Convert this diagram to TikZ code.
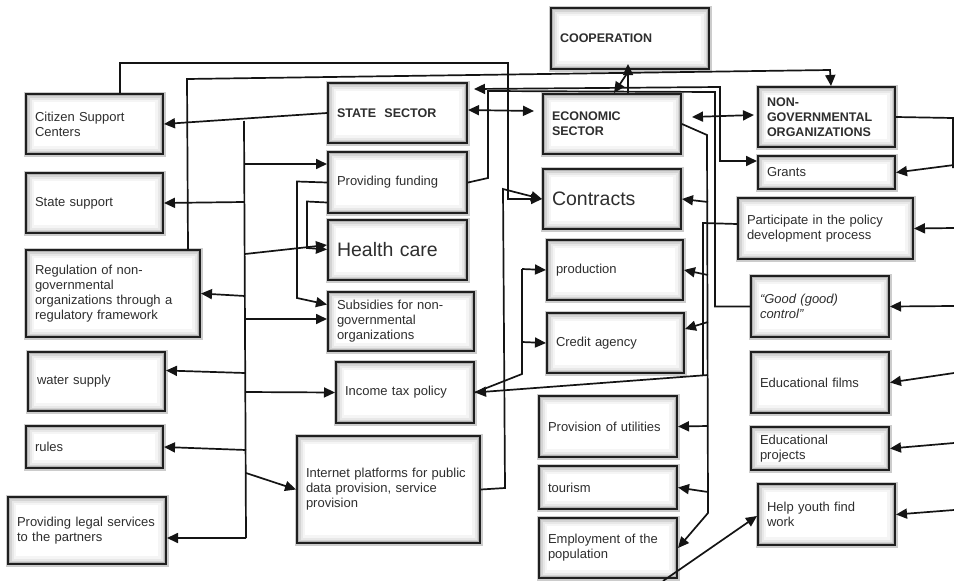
\documentclass[tikz,border=0pt]{standalone}
\usepackage{fontspec}
\setmainfont{Liberation Sans}
\usetikzlibrary{arrows.meta}
\newcommand\mkbox[7]{%
  \pgfmathsetmacro\bxw{#4-#2}%
  \pgfmathsetmacro\bxh{#5-#3}%
  \pgfmathsetmacro\bxt{#4-#2-18}%
  \node[box,#6,minimum width=\bxw pt,minimum height=\bxh pt,text width=\bxt pt] (#1) at (#2,#3) {#7};}
\tikzset{
 box/.style={draw=black!88, line width=2pt, fill=white, anchor=north west, align=left,
   inner xsep=9pt, inner ysep=0pt, text=black!82, font=\fontsize{13}{15}\selectfont,
   preaction={draw=black!20, line width=5pt},
   path picture={
     \draw[line width=16pt, black!4] (path picture bounding box.south west) rectangle (path picture bounding box.north east);
     \draw[line width=11pt, black!9] (path picture bounding box.south west) rectangle (path picture bounding box.north east);
     \draw[line width=7pt, black!17] (path picture bounding box.south west) rectangle (path picture bounding box.north east);
     \draw[line width=4pt, black!30] (path picture bounding box.south west) rectangle (path picture bounding box.north east);
   }},
 hd/.style={font=\fontsize{12.5}{15}\selectfont\bfseries},
 big/.style={font=\fontsize{19.5}{22}\selectfont},
 itx/.style={font=\fontsize{13}{15}\selectfont\itshape},
 ln/.style={line width=1.7pt, draw=black!92},
 arr/.style={ln, -{Triangle[length=11pt,width=10pt]}},
 arr2/.style={ln, {Triangle[length=11pt,width=10pt]}-{Triangle[length=11pt,width=10pt]}},
}
\begin{document}
\begin{tikzpicture}[x=1pt,y=-1pt]
\fill[white] (0,0) rectangle (954,581);
\useasboundingbox (0,0) rectangle (954,581);
% left column
\mkbox{cit}{25}{93}{162}{153}{}{Citizen Support\\Centers}
\mkbox{sup}{25}{172}{162}{232}{}{State support}
\mkbox{reg}{25}{249}{199}{336}{}{Regulation of non-\\governmental\\organizations through a\\regulatory framework}
\mkbox{wat}{27}{351}{164}{410}{}{water supply}
\mkbox{rul}{25}{425}{162}{467}{}{rules}
\mkbox{leg}{7}{496}{165}{563}{}{Providing legal services\\to the partners}
% state column
\mkbox{ss}{327}{82}{466}{142}{hd}{STATE~~SECTOR}
\mkbox{pf}{327}{151}{466}{212}{}{Providing funding}
\mkbox{hc}{327}{219}{466}{279}{big}{Health care}
\mkbox{sub}{327}{291}{473}{350}{}{Subsidies for non-\\governmental\\organizations}
\mkbox{inc}{335}{361}{473}{422}{}{Income tax policy}
\mkbox{int}{296}{435}{479}{542}{}{Internet platforms for public\\data provision, service\\provision}
% economic column
\mkbox{coop}{550}{7}{708}{68}{hd}{COOPERATION}
\mkbox{eco}{542}{93}{680}{153}{hd}{ECONOMIC\\SECTOR}
\mkbox{con}{542}{168}{680}{228}{big}{Contracts}
\mkbox{pro}{546}{239}{682}{299}{}{production}
\mkbox{cr}{546}{312}{683}{372}{}{Credit agency}
\mkbox{ut}{538}{395}{676}{456}{}{Provision of utilities}
\mkbox{tou}{538}{465}{676}{508}{}{tourism}
\mkbox{emp}{538}{517}{676}{577}{}{Employment of the\\population}
% NGO column
\mkbox{ngo}{757}{86}{894}{146}{hd}{NON-\\GOVERNMENTAL\\ORGANIZATIONS}
\mkbox{gr}{757}{155}{894}{188}{}{Grants}
\mkbox{par}{737}{197}{912}{258}{}{Participate in the policy\\development process}
\mkbox{gc}{750}{275}{888}{336}{itx}{“Good (good)\\control”}
\mkbox{ef}{750}{351}{888}{412}{}{Educational films}
\mkbox{ep}{750}{426}{888}{469}{}{Educational\\projects}
\mkbox{hy}{757}{483}{894}{544}{}{Help youth find\\work}

% ---- state trunk
\coordinate (tA) at (244,121);
\coordinate (tB) at (246,538);
\coordinate (tPF) at (244,164);
\coordinate (tSU) at (244,202);
\coordinate (tHC) at (245,254);
\coordinate (tRG) at (245,296);
\coordinate (tSB) at (245,319);
\coordinate (tWA) at (245,373);
\coordinate (tIN) at (245,392);
\coordinate (tRU) at (246,450);
\coordinate (tIT) at (246,473);
\draw[arr] (ss.west) -- (cit.east);
\draw[ln] (tA) -- (tB);
\draw[arr] (tPF) -- (pf.west |- tPF);
\draw[arr] (tSU) -- (sup.east);
\draw[arr] (tHC) -- ([yshift=5pt]hc.west);
\draw[arr] (tRG) -- (reg.east);
\draw[arr] (tSB) -- (sub.west |- tSB);
\draw[arr] (tWA) -- ([yshift=11pt]wat.east);
\draw[arr] (tIN) -- (inc.west);
\draw[arr] (tRU) -- (rul.east);
\draw[arr] (tIT) -- (int.west);
\draw[arr] (tB) -- (leg.east |- tB);

% ---- citizen top line to contracts
\coordinate (c2) at (508,63);
\draw[arr] ([xshift=25.5pt]cit.north) |- (c2) |- (con.west);

% ---- regulation top line to NGO
\coordinate (r1) at (187,79);
\coordinate (r2) at (830,70);
\draw[arr] ([xshift=75pt]reg.north) -- (r1) -- (r2) -- ([xshift=4.5pt]ngo.north);

% ---- cooperation
\draw[arr] ([xshift=16pt]eco.north) -- ([xshift=-2pt,yshift=6pt]coop.south);
\draw[arr] ([xshift=-2pt,yshift=-2pt]coop.south) -- ([xshift=2pt]eco.north);

% ---- state <-> economic
\draw[arr2] ([yshift=3pt]ss.east) -- ([xshift=-8pt,yshift=13pt]eco.west);

% ---- state <-> grants
\coordinate (g1) at (720,87);
\draw[arr2] ([xshift=6pt,yshift=24pt]ss.east) -- (g1) |- ([yshift=11.5pt]gr.west);

% ---- providing funding -> good control
\coordinate (p1) at (488,178);
\coordinate (p2) at (488,91);
\coordinate (p3) at (715,92);
\draw[ln] (pf.east) -- (p1) -- (p2) -- (p3) |- (gc.west);

% ---- internet -> contracts
\coordinate (i1) at (505,488);
\coordinate (i2) at (503,189);
\draw[arr] (int.east) -- (i1) -- (i2) -- (con.west);

% ---- providing funding -> subsidies / health care
\coordinate (f1) at (297,181.5);
\coordinate (f2) at (297,298);
\draw[arr] (pf.west) -- (f1) -- (f2) -- ([yshift=17pt]sub.west);
\coordinate (h1) at (307,201.5);
\coordinate (h2) at (307,248);
\draw[arr] ([yshift=-20pt]pf.west) -- (h1) -- (h2) -- ([yshift=0.5pt]hc.west);

% ---- economic <-> NGO
\draw[arr2] ([xshift=10pt,yshift=7pt]eco.east) -- ([xshift=-3pt,yshift=2pt]ngo.west);

% ---- economic trunk
\coordinate (e1) at (707,135);
\coordinate (e2) at (708,513);
\coordinate (eC) at (708,202);
\coordinate (eP) at (708,275);
\coordinate (eR) at (708,322);
\coordinate (eI) at (708,375);
\coordinate (eU) at (708,426);
\coordinate (eT) at (708,492);
\draw[arr] (eco.east) -- (e1) -- (e2) -- (emp.east);
\draw[arr] (eC) -- (con.east);
\draw[arr] (eP) -- (pro.east);
\draw[arr] (eR) -- ([yshift=14pt]cr.east);
\draw[arr] (eI) -- (inc.east);
\draw[arr] (eU) -- (ut.east);
\draw[arr] (eT) -- (tou.east);

% ---- participate line
\coordinate (q1) at (703,223);
\coordinate (q2) at (703,375);
\draw[ln] ([yshift=4.5pt]par.west) -- (q1) -- (q2);

% ---- income tax -> production / credit agency
\coordinate (k1) at (522,374);
\coordinate (k2) at (522,269);
\coordinate (k3) at (522,342);
\draw[ln] (inc.east) -- (k1) -- (k2);
\draw[arr] (k2) -- (pro.west);
\draw[arr] (k3) -- (cr.west);

% ---- NGO right side
\coordinate (n1) at (953,118);
\coordinate (n2) at (953,168);
\coordinate (nG) at (954,165);
\coordinate (nP) at (954,228);
\coordinate (nC) at (954,306);
\coordinate (nF) at (954,373);
\coordinate (nE) at (954,443);
\coordinate (nH) at (954,510);
\draw[ln] (ngo.east) -- (n1) -- (n2);
\draw[arr] (nG) -- (gr.east);
\draw[arr] (nP) -- (par.east);
\draw[arr] (nC) -- (gc.east);
\draw[arr] (nF) -- (ef.east);
\draw[arr] (nE) -- (ep.east);
\draw[arr] (nH) -- (hy.east);

% ---- employment -> help youth
\coordinate (y0) at (663,581);
\draw[arr] (y0) -- ([yshift=-1.5pt]hy.west);
\end{tikzpicture}
\end{document}
